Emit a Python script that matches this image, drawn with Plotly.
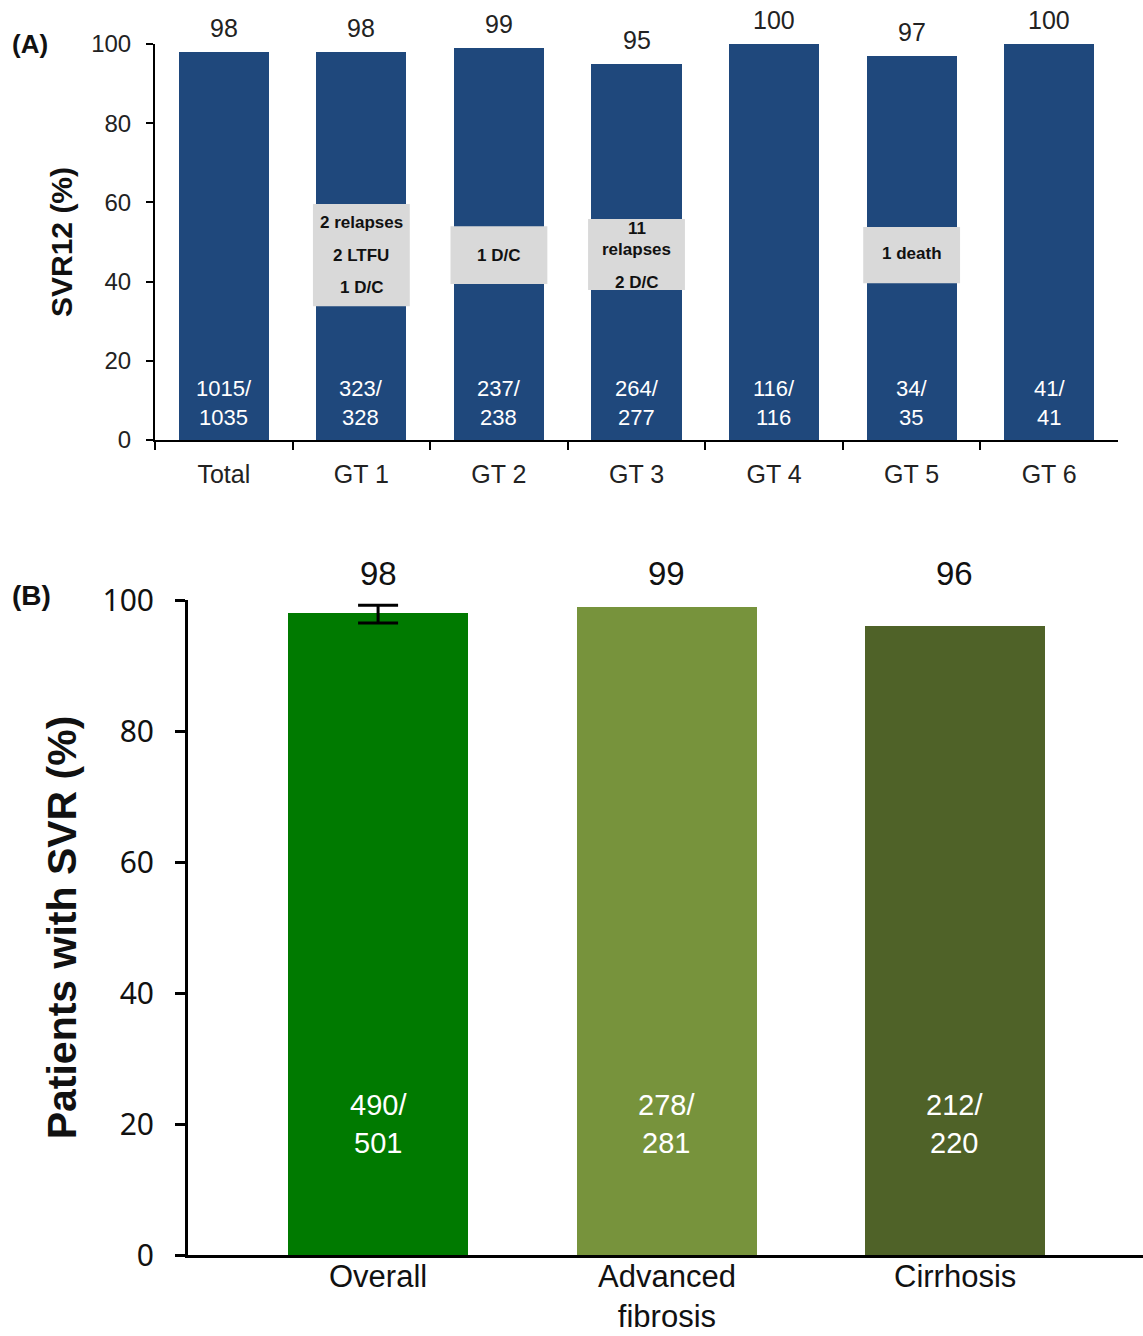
import plotly.graph_objects as go

# ---- Panel A: SVR12 by genotype ----
gt_labels = ["Total", "GT 1", "GT 2", "GT 3", "GT 4", "GT 5", "GT 6"]
gt_svr = [98, 98, 99, 95, 100, 97, 100]
gt_counts = ["1015/<br>1035", "323/<br>328", "237/<br>238", "264/<br>277",
             "116/<br>116", "34/<br>35", "41/<br>41"]
# reasons for non-response, per genotype (line by line)
gt_notes = {
    "GT 1": ["2 relapses", "2 LTFU", "1 D/C"],
    "GT 2": ["1 D/C"],
    "GT 3": ["11", "relapses", "2 D/C"],
    "GT 5": ["1 death"],
}

# ---- Panel B: SVR by fibrosis stage ----
grp_labels = ["Overall", "Advanced<br>fibrosis", "Cirrhosis"]
grp_svr = [98, 99, 96]
grp_counts = ["490/<br>501", "278/<br>281", "212/<br>220"]
overall_ci_plus = [1.2]
overall_ci_minus = [1.5]

W, H = 1143, 1336
NAVY = "#1F487C"
GREENS = ["#007A00", "#77933C", "#4F6228"]
ARIAL = "Liberation Sans, Arial, sans-serif"


def px_x(p):
    return p / W


def px_y(p):
    return 1 - p / H


fig = go.Figure()

fig.add_trace(go.Bar(
    x=gt_labels, y=gt_svr, width=0.655,
    marker=dict(color=NAVY, line=dict(width=0)),
    xaxis="x", yaxis="y", showlegend=False, hoverinfo="skip",
))

fig.add_trace(go.Bar(
    x=grp_labels, y=grp_svr, width=0.624,
    marker=dict(color=GREENS, line=dict(width=0)),
    xaxis="x2", yaxis="y2", showlegend=False, hoverinfo="skip",
))

# 95% CI on the overall group
fig.add_trace(go.Scatter(
    x=grp_labels[:1], y=grp_svr[:1], mode="markers",
    marker=dict(opacity=0, size=1),
    error_y=dict(type="data", array=overall_ci_plus, arrayminus=overall_ci_minus,
                 symmetric=False, color="black", thickness=3, width=20),
    xaxis="x2", yaxis="y2", showlegend=False, hoverinfo="skip",
))

shapes = []
annotations = []

# Panel A labels
for cat, v, c in zip(gt_labels, gt_svr, gt_counts):
    annotations.append(dict(x=cat, y=v, xref="x", yref="y", text=str(v),
                            showarrow=False, yanchor="middle", yshift=24,
                            font=dict(family=ARIAL, size=25, color="#222222")))
    annotations.append(dict(x=cat, y=9.3, xref="x", yref="y", text=c,
                            showarrow=False, yanchor="middle",
                            font=dict(family=ARIAL, size=22, color="white")))

# grey note boxes: (y0, y1) span and the y of each text line
note_layout = {
    "GT 1": ((33.8, 59.6), [54.8, 46.7, 38.6]),
    "GT 2": ((39.4, 54.0), [46.7]),
    "GT 3": ((37.9, 55.8), [53.5, 48.0, 39.9]),
    "GT 5": ((39.6, 53.8), [47.2]),
}
for cat, lines in gt_notes.items():
    i = gt_labels.index(cat)
    (y0, y1), ys = note_layout[cat]
    shapes.append(dict(type="rect", xref="x", yref="y",
                       x0=i - 0.352, x1=i + 0.352, y0=y0, y1=y1,
                       fillcolor="#D9D9D9", line=dict(width=0), layer="above"))
    for txt, yy in zip(lines, ys):
        annotations.append(dict(x=cat, y=yy, xref="x", yref="y", text=f"<b>{txt}</b>",
                                showarrow=False, yanchor="middle",
                                font=dict(family=ARIAL, size=17, color="#111111")))

# Panel B labels: value on a common row above the bars, counts inside
for cat, v, c in zip(grp_labels, grp_svr, grp_counts):
    annotations.append(dict(x=cat, y=100, xref="x2", yref="y2", text=str(v),
                            showarrow=False, yanchor="middle", yshift=27,
                            font=dict(family=ARIAL, size=33, color="#111111")))
    annotations.append(dict(x=cat, y=20.0, xref="x2", yref="y2", text=c,
                            showarrow=False, yanchor="middle",
                            font=dict(family=ARIAL, size=29, color="white")))

# Panel B category names, top-aligned just under the axis
for cat in grp_labels:
    annotations.append(dict(x=cat, y=px_y(1257), xref="x2", yref="paper",
                            text=cat, showarrow=False, yanchor="top", valign="top",
                            font=dict(family=ARIAL, size=31, color="#111111")))

annotations.append(dict(x=px_x(10), y=px_y(44), xref="paper", yref="paper",
                        text="<b>(A)</b>", showarrow=False, xanchor="left", yanchor="middle",
                        font=dict(family=ARIAL, size=26, color="#111111")))
annotations.append(dict(x=px_x(10), y=px_y(595), xref="paper", yref="paper",
                        text="<b>(B)</b>", showarrow=False, xanchor="left", yanchor="middle",
                        font=dict(family=ARIAL, size=28, color="#111111")))

fig.update_layout(
    width=W, height=H,
    margin=dict(l=0, r=0, t=0, b=0, autoexpand=False),
    paper_bgcolor="white", plot_bgcolor="white",
    bargap=0,
    shapes=shapes,
    annotations=annotations,
    xaxis=dict(
        domain=[px_x(155), px_x(1118)], anchor="y", automargin=False,
        type="category", range=[-0.5, 6.5],
        showline=True, linecolor="black", linewidth=2,
        ticks="outside", tickson="boundaries", ticklen=8, tickwidth=2, tickcolor="black",
        ticklabelstandoff=11,
        tickfont=dict(family=ARIAL, size=25, color="#222222"),
        showgrid=False, zeroline=False, fixedrange=True,
    ),
    yaxis=dict(
        domain=[px_y(440), px_y(44)], anchor="x", automargin=False,
        range=[0, 100], tickvals=[0, 20, 40, 60, 80, 100],
        showline=True, linecolor="black", linewidth=2,
        ticks="outside", ticklen=7, tickwidth=2, tickcolor="black",
        ticklabelstandoff=10,
        tickfont=dict(family=ARIAL, size=24, color="#222222"),
        title=dict(text="<b>SVR12 (%)</b>", standoff=10,
                   font=dict(family=ARIAL, size=30, color="#111111")),
        showgrid=False, zeroline=False, fixedrange=True,
    ),
    xaxis2=dict(
        domain=[px_x(188), 1.0], anchor="y2", automargin=False,
        type="category", range=[-0.659, 2.652],
        showline=True, linecolor="black", linewidth=3,
        ticks="", showticklabels=False,
        showgrid=False, zeroline=False, fixedrange=True,
    ),
    yaxis2=dict(
        domain=[px_y(1255), px_y(600)], anchor="x2", automargin=False,
        range=[0, 100], tickvals=[0, 20, 40, 60, 80, 100],
        showline=True, linecolor="black", linewidth=3,
        ticks="outside", ticklen=10, tickwidth=3, tickcolor="black",
        ticklabelstandoff=15,
        tickfont=dict(family="Noto Sans, Open Sans, sans-serif", size=30, color="#111111"),
        title=dict(text="<b>Patients with SVR (%)</b>", standoff=14,
                   font=dict(family=ARIAL, size=41, color="#111111")),
        showgrid=False, zeroline=False, fixedrange=True,
    ),
)

fig.write_html("out.html")
